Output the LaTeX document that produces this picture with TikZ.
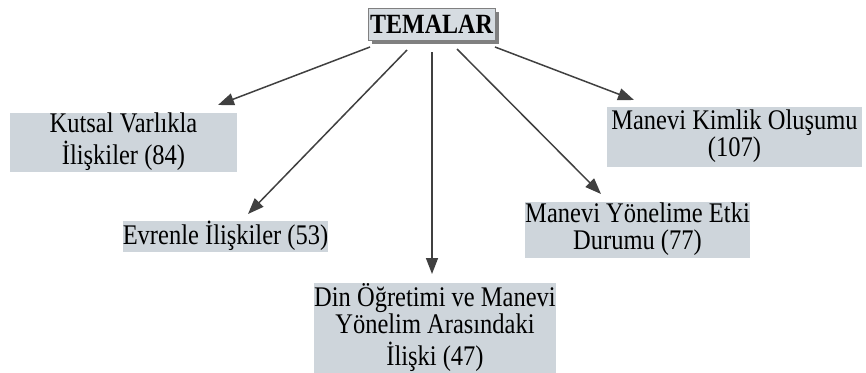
\documentclass[tikz,border=0pt]{standalone}
\usepackage{graphicx}
\usepackage{fontspec}
\setmainfont{Liberation Serif}
\usetikzlibrary{arrows.meta,shadows}
\definecolor{boxfill}{RGB}{206,213,219}
\definecolor{headfill}{RGB}{214,220,225}
\definecolor{linegray}{RGB}{64,64,64}
\definecolor{shadowgray}{RGB}{128,128,128}
% centred lines, set slightly tall
\newcommand{\tallcell}[1]{\scalebox{1}[1.16]{\begin{tabular}{@{}c@{}}#1\end{tabular}}}
\begin{document}
\begin{tikzpicture}[x=1pt,y=-1pt,
  theme/.style={fill=boxfill, inner sep=0pt,
    font=\fontsize{24.5}{22.8}\selectfont},
  head/.style={fill=headfill, draw=shadowgray, line width=1pt, inner sep=0pt,
    font=\fontsize{24}{22}\selectfont\bfseries,
    general shadow={fill=shadowgray, shadow xshift=4pt, shadow yshift=-4pt}},
  link/.style={draw=linegray, line width=1.5pt,
    -{Triangle[length=16pt,width=12pt]}}]
\useasboundingbox (0,0) rectangle (866,372);

% root
\node[head, minimum width=127pt, minimum height=32pt] (root) at (431.5,24)
  {\scalebox{1}[1.16]{TEMALAR}};

% themes
\node[theme, minimum width=227pt, minimum height=59pt] (kutsal) at (123.5,142.5)
  {\tallcell{Kutsal Varlıkla\\İlişkiler (84)}};
\node[theme, minimum width=203pt, minimum height=27pt] (evren) at (225.5,236.5)
  {\tallcell{Evrenle İlişkiler (53)}};
\node[theme, minimum width=236pt, minimum height=86pt] (din) at (435,328)
  {\tallcell{Din Öğretimi ve Manevi\\Yönelim Arasındaki\\İlişki (47)}};
\node[theme, minimum width=221pt, minimum height=56pt] (yonelim) at (637.5,230)
  {\tallcell{Manevi Yönelime Etki\\Durumu (77)}};
\node[theme, minimum width=255pt, minimum height=60pt] (kimlik) at (734.5,137)
  {\tallcell{Manevi Kimlik Oluşumu\\(107)}};

% arrow start points below the root and tips above each theme
\coordinate (s1) at (370,47);
\coordinate (s2) at (407,50);
\coordinate (s3) at (432,52);
\coordinate (s4) at (457,49);
\coordinate (s5) at (495,47);
\coordinate (e1) at (218,105);
\coordinate (e2) at (248,214);
\coordinate (e3) at (432,274);
\coordinate (e4) at (601,194);
\coordinate (e5) at (634,100);

\draw[link] (s1) -- (e1);
\draw[link] (s2) -- (e2);
\draw[link] (s3) -- (e3);
\draw[link] (s4) -- (e4);
\draw[link] (s5) -- (e5);
\end{tikzpicture}
\end{document}
